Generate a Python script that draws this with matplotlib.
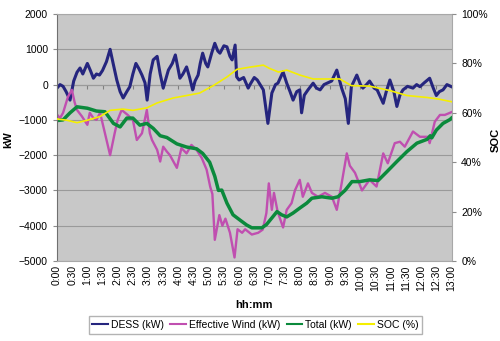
import matplotlib.pyplot as plt
from matplotlib.ticker import FuncFormatter, MultipleLocator

plt.rcParams["font.family"] = ["Liberation Sans", "DejaVu Sans"]
plt.rcParams["font.size"] = 7.5

# time in hours since 0:00
dess_hours = [
    0.0, 0.1, 0.2, 0.3, 0.43, 0.55, 0.66, 0.76, 0.85, 1.0, 1.1, 1.2, 1.3, 1.4,
    1.5, 1.63, 1.75, 1.85, 1.97, 2.08, 2.18, 2.3, 2.4, 2.5, 2.6, 2.7, 2.8, 2.9,
    2.97, 3.07, 3.17, 3.3, 3.4, 3.5, 3.6, 3.67, 3.8, 3.9, 4.0, 4.05, 4.15, 4.27,
    4.37, 4.47, 4.55, 4.65, 4.72, 4.8, 4.9, 4.97, 5.1, 5.2, 5.3, 5.37, 5.5, 5.6,
    5.7, 5.77, 5.87, 5.92, 6.0, 6.15, 6.3, 6.36, 6.5, 6.6, 6.8, 6.95, 7.08, 7.2,
    7.28, 7.45, 7.57, 7.68, 7.78, 7.9, 8.0, 8.06, 8.15, 8.27, 8.44, 8.55, 8.67,
    8.8, 8.9, 9.05, 9.22, 9.38, 9.5, 9.6, 9.7, 9.88, 10.0, 10.08, 10.2, 10.3,
    10.45, 10.55, 10.75, 10.85, 10.97, 11.1, 11.2, 11.3, 11.4, 11.55, 11.73,
    11.85, 11.96, 12.1, 12.28, 12.4, 12.5, 12.6, 12.72, 12.85, 13.0,
]
dess_kw = [
    -100, 0, -50, -200, -440, 100, 350, 470, 300, 600, 400, 180, 300, 270,
    400, 650, 1000, 600, 130, -200, -380, -200, -60, 300, 600, 450, 270, 50,
    -440, 300, 700, 800, 300, -100, 200, 410, 600, 840, 400, 180, 300, 500,
    200, -150, 100, 270, 600, 890, 600, 500, 900, 1170, 950, 890, 1100, 1070,
    800, 700, 1120, 220, 130, 200, -100, 0, 200, 130, -150, -1100, -240, 0,
    40, 360, 40, -200, -440, -200, -150, -800, -300, -150, 40, -100, -150,
    0, 40, 100, 410, -100, -400, -1100, -60, 270, 0, -100, 0, 100,
    -100, -150, -530, -200, 130, -200, -620, -300, -150, -50, -100,
    0, -60, 50, 180, -100, -310, -200, -150, 0, -60,
]

wind_hours = [
    0.0, 0.1, 0.2, 0.36, 0.49, 0.58, 0.66, 0.82, 1.0, 1.08, 1.2, 1.3, 1.42,
    1.58, 1.75, 1.9, 2.0, 2.13, 2.33, 2.5, 2.63, 2.8, 2.96, 3.06, 3.13, 3.3,
    3.4, 3.5, 3.62, 3.72, 3.95, 4.1, 4.27, 4.43, 4.6, 4.77, 4.93, 5.05, 5.12,
    5.2, 5.35, 5.45, 5.55, 5.7, 5.85, 5.95, 6.1, 6.2, 6.42, 6.63, 6.78, 6.9,
    6.98, 7.08, 7.15, 7.27, 7.45, 7.57, 7.73, 7.84, 8.0, 8.1, 8.27, 8.4, 8.6,
    8.83, 9.06, 9.22, 9.38, 9.55, 9.65, 9.82, 10.05, 10.3, 10.53, 10.75, 10.9,
    11.13, 11.3, 11.46, 11.73, 11.96, 12.22, 12.28, 12.45, 12.62, 12.78,
    12.95, 13.0,
]
wind_kw = [
    -850, -950, -800, -350, -150, -500, -720, -900, -1140, -800, -950, -1000,
    -800, -1380, -2000, -1380, -1000, -720, -860, -1000, -1570, -1380, -720,
    -1380, -1570, -1850, -2180, -1760, -1900, -2000, -2360, -1800, -1950,
    -1710, -1850, -2080, -2410, -2900, -3100, -4400, -3700, -4000, -3800,
    -4200, -4900, -4100, -4200, -4100, -4250, -4200, -4110, -3640, -2800,
    -3550, -3070, -3600, -4050, -3550, -3360, -3000, -2700, -3180, -2800,
    -3070, -3180, -3070, -3180, -3550, -2800, -1950, -2300, -2500, -3000,
    -2700, -2890, -1950, -2230, -1660, -1620, -1760, -1330, -1480, -1480,
    -1660, -1050, -860, -860, -800, -780,
]

total_hours = [
    0.0, 0.2, 0.43, 0.66, 1.0, 1.3, 1.58, 1.86, 2.08, 2.3, 2.5, 2.73, 2.96,
    3.17, 3.4, 3.62, 3.95, 4.27, 4.6, 4.8, 5.03, 5.2, 5.32, 5.43, 5.6, 5.8,
    6.03, 6.25, 6.42, 6.75, 6.9, 7.08, 7.25, 7.4, 7.57, 7.78, 8.0, 8.23, 8.4,
    8.73, 9.06, 9.26, 9.49, 9.72, 9.98, 10.3, 10.58, 10.87, 11.2, 11.53, 11.86,
    12.2, 12.3, 12.35, 12.5, 12.72, 12.95, 13.0,
]
total_kw = [
    -1020, -1000, -800, -630, -670, -750, -770, -1100, -1200, -950, -950,
    -1150, -1100, -1240, -1450, -1500, -1680, -1770, -1820, -1950, -2200,
    -2600, -3000, -2990, -3360, -3690, -3840, -3980, -4060, -4060, -3970,
    -3780, -3600, -3690, -3750, -3640, -3500, -3360, -3220, -3180, -3220,
    -3180, -3000, -2750, -2750, -2700, -2720, -2470, -2180, -1900, -1660,
    -1550, -1450, -1510, -1290, -1100, -990, -950,
]

soc_hours = [
    0.0, 0.32, 0.66, 1.0, 1.42, 1.75, 2.17, 2.5, 2.96, 3.3, 3.83, 4.27, 4.7,
    5.15, 5.6, 5.93, 6.36, 6.8, 7.0, 7.3, 7.57, 8.0, 8.44, 9.32, 9.7, 10.3,
    10.97, 11.53, 12.2, 12.6, 13.0,
]
soc_pct = [
    57.5, 57, 56, 57, 58.5, 61, 61.5, 61, 62, 64, 66, 67, 68, 71, 74.5, 77.6,
    78.5, 79.3, 78, 76.5, 77.3, 75.3, 73.7, 73.7, 71, 70.8, 69, 67, 66.2,
    65.5, 64.5,
]

DESS_COLOR = "#25257e"
WIND_COLOR = "#c04fb0"
TOTAL_COLOR = "#0b8a3c"
SOC_COLOR = "#f5ef00"
PLOT_BG = "#c8c8c8"
EDGE = "#8c8c8c"


def hhmm(value, _pos):
    minutes = int(round(value * 60))
    return f"{minutes // 60}:{minutes % 60:02d}"


fig = plt.figure(figsize=(5.0, 3.41), dpi=100)
ax = fig.add_axes([0.114, 0.2346, 0.789, 0.7243])
ax.set_facecolor(PLOT_BG)

dess_line, = ax.plot(dess_hours, dess_kw, color=DESS_COLOR, lw=2.2, label="DESS (kW)")
wind_line, = ax.plot(wind_hours, wind_kw, color=WIND_COLOR, lw=1.7, label="Effective Wind (kW)")
total_line, = ax.plot(total_hours, total_kw, color=TOTAL_COLOR, lw=2.5, label="Total (kW)")

ax.set_xlim(0, 13)
ax.set_ylim(-5000, 2000)
ax.yaxis.set_major_locator(MultipleLocator(1000))
ax.xaxis.set_major_locator(MultipleLocator(0.5))
ax.xaxis.set_major_formatter(FuncFormatter(hhmm))
ax.grid(axis="y", color="#9a9a9a", lw=0.8)
ax.set_axisbelow(True)
ax.tick_params(axis="x", length=0, rotation=90, pad=3, labelsize=7.5)
ax.tick_params(axis="y", length=3, color=EDGE, labelsize=7.5, pad=3.5)
for side in ["top", "right", "bottom"]:
    ax.spines[side].set_color("#a8a8a8")
ax.spines["left"].set_color("#707070")

# category axis crosses at 0 kW, Excel style
cross = ax.secondary_xaxis(5000 / 7000)
cross.xaxis.set_major_locator(MultipleLocator(0.5))
cross.tick_params(direction="in", length=3, color="#808080", labeltop=False)
cross.spines["top"].set_color("#808080")

ax.set_ylabel("kW", fontweight="bold", fontsize=8)
ax.yaxis.set_label_coords(-0.111, 0.49)
ax.set_xlabel("hh:mm", fontweight="bold", fontsize=8, labelpad=6)

ax2 = ax.twinx()
soc_line, = ax2.plot(soc_hours, soc_pct, color=SOC_COLOR, lw=1.2, label="SOC (%)")
ax2.set_ylim(0, 100)
ax2.yaxis.set_major_locator(MultipleLocator(20))
ax2.yaxis.set_major_formatter(FuncFormatter(lambda v, _p: f"{int(v)}%"))
ax2.tick_params(axis="y", length=3, color=EDGE, labelsize=7.5, pad=4)
for side in ["top", "right", "bottom", "left"]:
    ax2.spines[side].set_visible(False)
ax2.set_ylabel("SOC", fontweight="bold", fontsize=8)
ax2.yaxis.set_label_coords(1.1, 0.49)

fig.legend(
    handles=[dess_line, wind_line, total_line, soc_line],
    loc="center",
    bbox_to_anchor=(0.511, 0.047),
    ncol=4,
    fontsize=7.5,
    frameon=True,
    fancybox=False,
    edgecolor="#a0a0a0",
    handlelength=1.5,
    handletextpad=0.3,
    columnspacing=0.6,
    borderpad=0.35,
)
for handle in fig.legends[0].legend_handles:
    handle.set_linewidth(1.5)

fig.savefig("out.png", dpi=100)
